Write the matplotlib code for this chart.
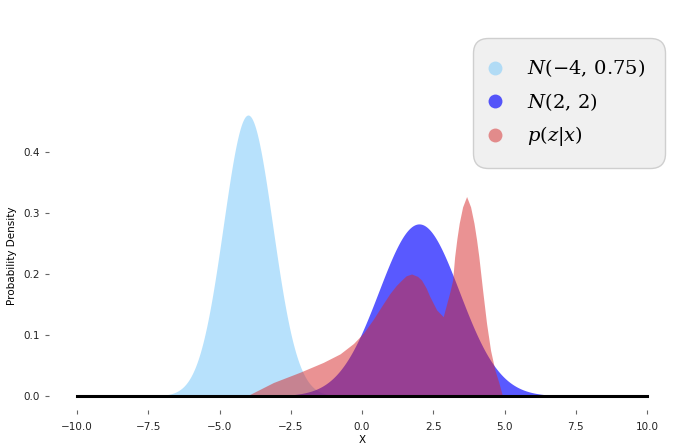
import matplotlib.pyplot as plt
import numpy as np
from matplotlib.lines import Line2D

plt.rcParams['mathtext.fontset'] = 'dejavuserif'

# the two normals, as (mean, variance) from the legend
prior_mean, prior_var = -4, 0.75
lik_mean, lik_var = 2, 2

# p(z|x)
post_x = [-4.04, -3.11, -2.17, -1.36, -0.77, -0.3, 0.05, 0.4, 0.7, 0.98, 1.2,
          1.39, 1.55, 1.74, 1.95, 2.09, 2.25, 2.38, 2.62, 2.85, 2.97, 3.08,
          3.18, 3.25, 3.33, 3.41, 3.53, 3.67, 3.81, 3.93, 4.02, 4.1, 4.23,
          4.37, 4.51, 4.66, 4.8, 4.93]
post_y = [0.0, 0.022, 0.039, 0.055, 0.069, 0.086, 0.103, 0.126, 0.148, 0.168, 0.181,
          0.19, 0.197, 0.2, 0.196, 0.19, 0.177, 0.163, 0.141, 0.13, 0.151, 0.17,
          0.19, 0.228, 0.258, 0.283, 0.31, 0.327, 0.31, 0.283, 0.256, 0.228, 0.174,
          0.119, 0.075, 0.043, 0.022, 0.0]

x = np.linspace(-10, 10, 1000)


def normal_pdf(x, mu, var):
    return np.exp(-(x - mu) ** 2 / (2 * var)) / np.sqrt(2 * np.pi * var)


fig = plt.figure(figsize=(6.86, 4.44), dpi=100)
ax = fig.add_axes([0.0707, 0.0766, 0.914, 0.696])

ax.fill_between(x, normal_pdf(x, prior_mean, prior_var), color='lightskyblue', alpha=0.6, lw=0)
ax.fill_between(x, normal_pdf(x, lik_mean, lik_var), color='blue', alpha=0.65, lw=0)
ax.fill_between(post_x, post_y, color='tab:red', alpha=0.5, lw=0)
ax.plot(x, np.zeros_like(x), color='black', lw=2.2)

for s in ax.spines.values():
    s.set_visible(False)
ax.tick_params(axis='both', labelsize=7.5, length=3, color='#666666', labelcolor='#222222')
ax.tick_params(axis='x', pad=6)
ax.set_xticks([-10, -7.5, -5, -2.5, 0, 2.5, 5, 7.5, 10])
ax.set_yticks([0, 0.1, 0.2, 0.3, 0.4])
ax.set_xlabel('X', fontsize=7.5, labelpad=1.5)
ax.set_ylabel('Probability Density', fontsize=7.5)

handles = [
    Line2D([], [], ls='none', marker='o', ms=10, mew=0, color='lightskyblue', alpha=0.6),
    Line2D([], [], ls='none', marker='o', ms=10, mew=0, color='blue', alpha=0.65),
    Line2D([], [], ls='none', marker='o', ms=10, mew=0, color='tab:red', alpha=0.5),
]
labels = [r'$N(-4,\,0.75)$', r'$N(2,\,2)$', r'$p(z|x)$']
leg = fig.legend(handles, labels, loc='upper right', bbox_to_anchor=(0.9694, 0.9144),
                 borderaxespad=0, fontsize=14, frameon=True, fancybox=True,
                 facecolor='#f0f0f0', edgecolor='#cfcfcf', framealpha=1,
                 borderpad=1.0, labelspacing=0.6, handlelength=0.3, handletextpad=1.5)
leg.get_frame().set_boxstyle('round,pad=0,rounding_size=0.75')

fig.savefig('out.png', dpi=100)
